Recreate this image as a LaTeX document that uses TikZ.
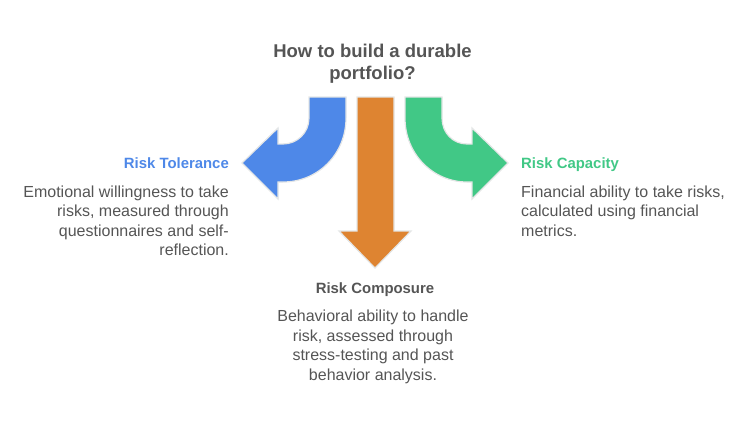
\documentclass[tikz,border=0pt]{standalone}
\usepackage{fontspec}
\setmainfont{Liberation Sans}
\definecolor{tolblue}{HTML}{4E88E8}
\definecolor{capgreen}{HTML}{41C886}
\definecolor{compdark}{HTML}{555555}
\definecolor{comporange}{HTML}{DE8431}
\definecolor{halo}{HTML}{E4E6E6}
\tikzset{
  heading/.style={font=\fontsize{18.5}{22}\selectfont\bfseries,text=compdark,align=center,inner sep=0pt},
  riskname/.style={font=\fontsize{14.9}{18}\selectfont\bfseries,inner sep=0pt},
  riskbody/.style={font=\fontsize{16}{19.5}\selectfont,text=compdark,inner sep=0pt},
  band/.style={draw=halo,line width=1.2pt,line join=miter}
}
\begin{document}
\begin{tikzpicture}[x=1pt,y=-1pt]
\useasboundingbox (0,0) rectangle (750,423);
\node[heading] (title) at (372.5,64) {How to build a durable\\portfolio?};

\fill[tolblue,band] (309,97) -- (346,97) -- (346,118) .. controls (346,154) and (318,182) .. (283,182) -- (278,182) -- (278,199) -- (242,163) -- (278,128) -- (278,144) -- (283,144) .. controls (297,144) and (309,133) .. (309,118) -- cycle;
\fill[comporange,band] (357,97) -- (394,97) -- (394,231) -- (411,231) -- (375,268) -- (339,231) -- (357,231) -- cycle;
\fill[capgreen,band] (442,97) -- (405,97) -- (405,118) .. controls (405,154) and (433,182) .. (467,182) -- (472,182) -- (472,199) -- (508,163) -- (472,128) -- (472,144) -- (467,144) .. controls (453,144) and (442,133) .. (442,118) -- cycle;

\node[riskname,text=tolblue,anchor=base east] (tolname) at (229,168.5) {Risk Tolerance};
\node[riskbody,align=right,anchor=north east] (tolbody) at (229,185.5) {Emotional willingness to take\\risks, measured through\\questionnaires and self-\\reflection.};

\node[riskname,text=capgreen,anchor=base west] (capname) at (521,168.5) {Risk Capacity};
\node[riskbody,align=left,anchor=north west] (capbody) at (521,185.5) {Financial ability to take risks,\\calculated using financial\\metrics.};

\node[riskname,text=compdark,anchor=base] (compname) at (375,293.5) {Risk Composure};
\node[riskbody,align=center,anchor=north] (compbody) at (373,310) {Behavioral ability to handle\\risk, assessed through\\stress-testing and past\\behavior analysis.};
\end{tikzpicture}
\end{document}
